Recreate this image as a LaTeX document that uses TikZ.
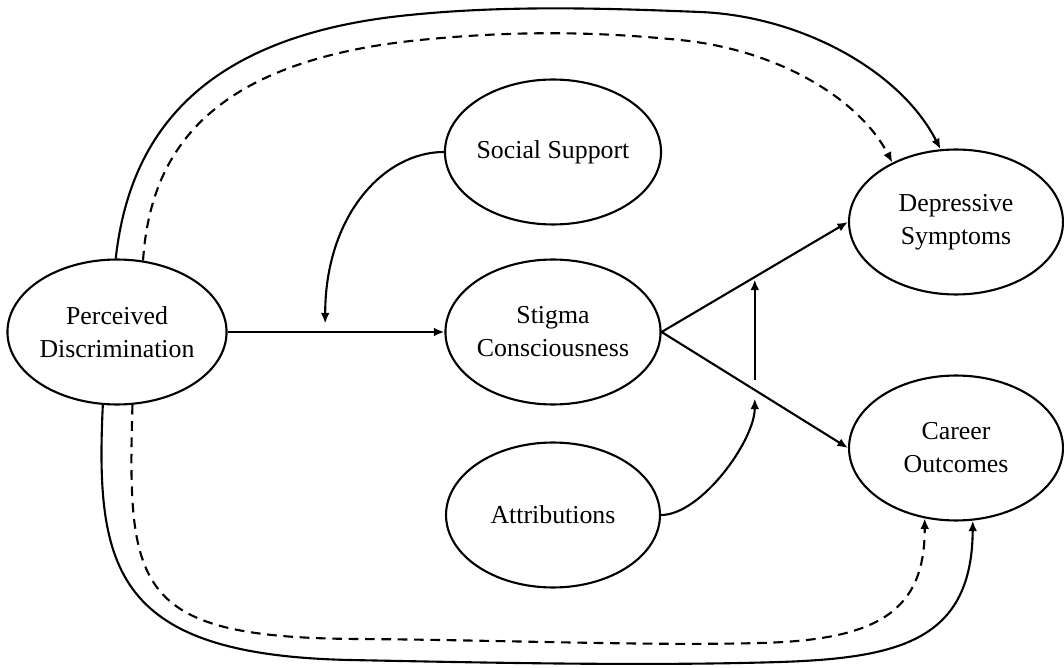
\documentclass[tikz,border=0pt]{standalone}
\usepackage{fontspec}
\setmainfont{Liberation Serif}
\usetikzlibrary{shapes.geometric,arrows.meta,calc}
\begin{document}
\begin{tikzpicture}[x=0.02cm,y=-0.02cm,
  lat/.style={ellipse,draw,line width=1.2pt,minimum width=4.28cm,minimum height=2.9cm,inner sep=0pt,align=center,font=\fontsize{14.7}{18.8}\selectfont},
  conn/.style={line width=1.2pt,-{Latex[length=6pt,width=5pt]}},
  dsh/.style={conn,dash pattern=on 5.5pt off 3.8pt},
  ]
\path[use as bounding box] (0,0) rectangle (1064,668);
\node[lat] (pd) at (117,332) {Perceived\\Discrimination};
\node[lat] (ss) at (553,152) {Social Support};
\node[lat] (sc) at (553,332) {Stigma\\Consciousness};
\node[lat] (at) at (553,515) {Attributions};
\node[lat] (ds) at (956,222) {Depressive\\Symptoms};
\node[lat] (co) at (956,448) {Career\\Outcomes};

% main paths
\draw[conn] (pd.east) -- coordinate[pos=0.45] (m1) (sc.west);
\draw[conn] (sc.east) -- coordinate[pos=0.5] (m2) (ds.west);
\draw[conn] (sc.east) -- coordinate[pos=0.5] (m3) (co.west);

% moderators
\draw[conn] (ss.west) .. controls +(-60,0) and +(0,-108) .. ([yshift=0.17cm]m1);
\draw[conn] ([yshift=0.2cm]m3) -- ([yshift=-0.05cm]m2);
\draw[conn] (at.east) .. controls +(40,0) and +(0,42) .. ([yshift=-0.17cm]m3);

% top curves
\draw[conn] (pd.91) .. controls (128,150) and (185,40) .. (400,16)
  .. controls (500,5) and (600,8) .. (700,12)
  .. controls (800,16) and (900,70) .. (ds.102);
\draw[dsh] (pd.70) .. controls (150,160) and (200,62) .. (420,40)
  .. controls (520,30) and (600,32) .. (680,40)
  .. controls (780,50) and (860,100) .. (ds.137);

% bottom curves
\draw[conn] (pd.259) .. controls (95,570) and (115,655) .. (350,660)
  .. controls (500,663) and (650,666) .. (780,662)
  .. controls (900,658) and (972,640) .. (co.283);
\draw[dsh] (pd.282) .. controls (127,590) and (135,638) .. (360,639)
  .. controls (500,640) and (650,646) .. (760,643)
  .. controls (880,640) and (925,610) .. (co.246);
\end{tikzpicture}
\end{document}
